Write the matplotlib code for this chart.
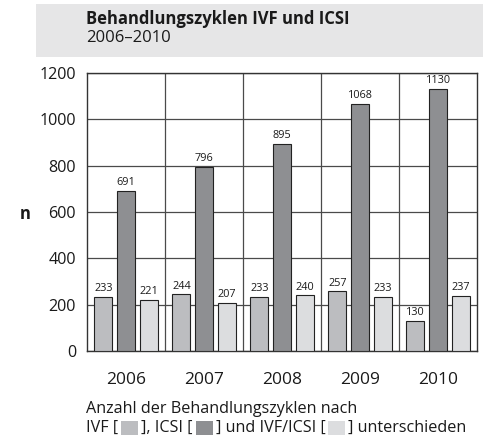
import matplotlib
matplotlib.use("Agg")
import matplotlib.pyplot as plt
from matplotlib.patches import Rectangle
import numpy as np

plt.rcParams['font.family'] = ['Open Sans', 'DejaVu Sans']

years = ["2006", "2007", "2008", "2009", "2010"]
ivf = [233, 244, 233, 257, 130]
icsi = [691, 796, 895, 1068, 1130]
ivf_icsi = [221, 207, 240, 233, 237]
yticks = [0, 200, 400, 600, 800, 1000, 1200]

c_ivf = "#bcbdc0"
c_icsi = "#8e8f92"
c_both = "#dcdddf"

W, H = 483, 441
fig = plt.figure(figsize=(W / 100, H / 100), dpi=100)

# header box
fig.patches.append(Rectangle((36 / W, 1 - 57 / H), (W - 36) / W, 53 / H,
                             transform=fig.transFigure, facecolor="#e6e6e7",
                             edgecolor="none", zorder=0))
fig.text(86 / W, 1 - 19 / H, "Behandlungszyklen IVF und ICSI", fontsize=12,
         fontweight="bold", va="center", ha="left", color="#1a1a1a")
fig.text(86 / W, 1 - 38 / H, "2006–2010", fontsize=12, va="center", ha="left",
         color="#1a1a1a")

ax = fig.add_axes([87 / W, 1 - 351 / H, (477 - 87) / W, (351 - 73) / H])
x = np.arange(len(years))
bw = 0.23
off = 0.29
series = [(ivf, c_ivf, -off), (icsi, c_icsi, 0), (ivf_icsi, c_both, off)]
for vals, col, o in series:
    ax.bar(x + o, vals, width=bw, color=col, edgecolor="#222222",
           linewidth=0.8, zorder=3)
    for xi, v in zip(x + o, vals):
        ax.text(xi, v + 12, str(v), ha="center", va="bottom", fontsize=7.8,
                color="#1a1a1a", zorder=4)

ax.set_xlim(-0.5, len(years) - 0.5)
ax.set_ylim(0, 1200)
ax.set_yticks(yticks)
ax.set_yticklabels([str(v) for v in yticks], fontsize=11.6, color="#1a1a1a")
ax.set_xticks(x)
ax.set_xticklabels(years, fontsize=12.5, color="#1a1a1a")
ax.tick_params(axis="x", length=0, pad=15)
ax.tick_params(axis="y", length=0, pad=8)
ax.yaxis.grid(True, color="#4a4a4a", linewidth=0.9, zorder=1)
for b in np.arange(0.5, len(years) - 0.5, 1):
    ax.axvline(b, color="#4a4a4a", linewidth=0.9, zorder=1)
for s in ax.spines.values():
    s.set_color("#333333")
    s.set_linewidth(1.0)
ax.set_axisbelow(True)

fig.text(25 / W, 1 - 214 / H, "n", fontsize=12, fontweight="bold",
         ha="center", va="center", color="#1a1a1a")

fig.text(86 / W, 1 - 409 / H, "Anzahl der Behandlungszyklen nach", fontsize=11.6,
         ha="left", va="center", color="#1a1a1a")

# caption line 2 with colour squares
fig.canvas.draw()
renderer = fig.canvas.get_renderer()
pieces = ["IVF [", c_ivf, "], ICSI [", c_icsi, "] und IVF/ICSI [", c_both,
          "] unterschieden"]
xpos = 86
ycen = 1 - 428 / H
for p in pieces:
    if p.startswith("#"):
        xpos += 3
        fig.patches.append(Rectangle((xpos / W, ycen - 7 / H), 17 / W, 14 / H,
                                     transform=fig.transFigure, facecolor=p,
                                     edgecolor="none"))
        xpos += 20
    else:
        t = fig.text(xpos / W, ycen, p, fontsize=11.6, ha="left", va="center",
                     color="#1a1a1a")
        bb = t.get_window_extent(renderer)
        xpos = bb.x1

fig.savefig("out.png", dpi=100)
